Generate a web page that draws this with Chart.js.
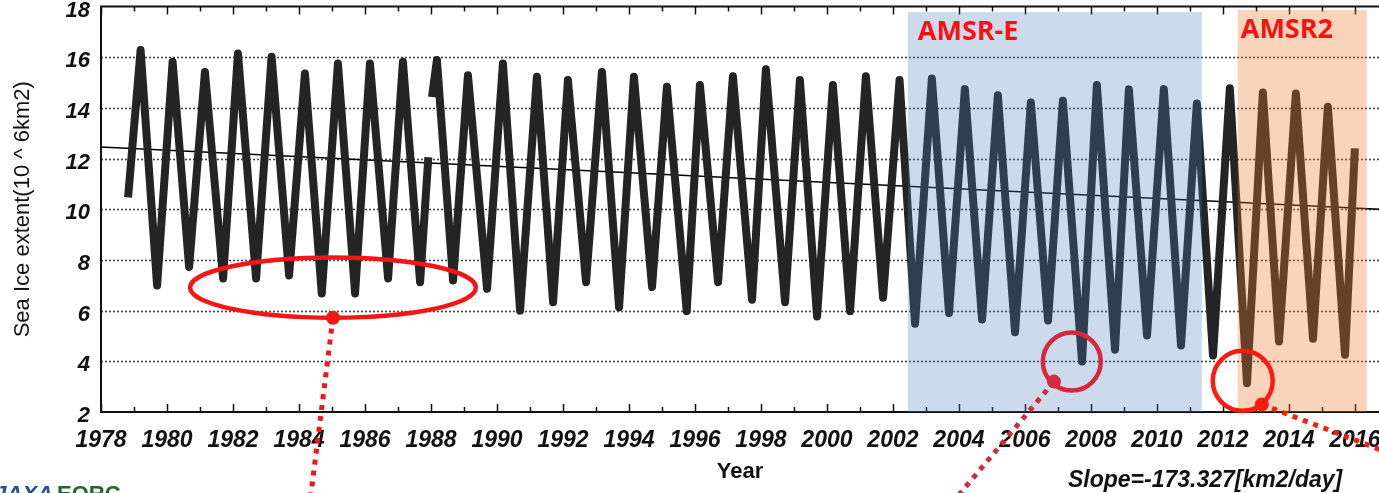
<!DOCTYPE html>
<html>
<head>
<meta charset="utf-8">
<script src="https://cdn.jsdelivr.net/npm/chart.js@4.4.1/dist/chart.umd.min.js"></script>
<style>
  html, body { margin: 0; padding: 0; background: #fff; overflow: hidden; }
  #wrap { width: 1379px; height: 493px; }
</style>
</head>
<body>
<div id="wrap"><canvas id="myChart" width="1379" height="493"></canvas></div>
<script>
// Arctic sea ice extent (decimal year, 10^6 km2)
// yearly max (~March) and min (~September), null = data gap 1987/88
const obsYear = [
  1978.82, 1979.20, 1979.70, 1980.17, 1980.67, 1981.15, 1981.70, 1982.15, 1982.70,
  1983.17, 1983.70, 1984.18, 1984.69, 1985.18, 1985.70, 1986.15, 1986.70, 1987.15,
  1987.67, 1987.92, 1987.97, 1988.03, 1988.18, 1988.67, 1989.12, 1989.70, 1990.18,
  1990.70, 1991.21, 1991.70, 1992.15, 1992.70, 1993.18, 1993.70, 1994.15, 1994.70,
  1995.15, 1995.75, 1996.15, 1996.70, 1997.15, 1997.73, 1998.15, 1998.73, 1999.18,
  1999.70, 2000.18, 2000.70, 2001.18, 2001.70, 2002.20, 2002.67, 2003.18, 2003.70,
  2004.18, 2004.70, 2005.18, 2005.70, 2006.18, 2006.70, 2007.15, 2007.73, 2008.18,
  2008.73, 2009.15, 2009.70, 2010.21, 2010.73, 2011.21, 2011.70, 2012.21, 2012.73,
  2013.21, 2013.70, 2014.21, 2014.73, 2015.18, 2015.70, 2016.00
];
const obsExtent = [
  10.47, 16.28, 6.99, 15.82, 7.72, 15.42, 7.27, 16.15, 7.27,
  16.02, 7.39, 15.36, 6.68, 15.75, 6.68, 15.75, 7.27, 15.82,
  7.12, 12.05, null, 14.43, 15.89, 7.19, 15.29, 6.86, 15.75,
  6.00, 15.23, 6.33, 15.10, 7.12, 15.42, 6.13, 15.23, 6.93,
  14.83, 5.98, 14.90, 7.12, 15.25, 6.43, 15.52, 6.33, 15.10,
  5.77, 14.90, 5.98, 15.25, 6.51, 15.10, 5.48, 15.16, 5.91,
  14.74, 5.65, 14.50, 5.15, 14.21, 5.61, 14.28, 3.99, 14.90,
  4.46, 14.73, 5.02, 14.74, 4.62, 14.17, 4.23, 14.77, 3.13,
  14.61, 4.78, 14.57, 4.89, 14.04, 4.26, 12.40
];

// linear trend line, ends
const trendYear = [1978, 2016.73];
const trendExtent = [12.46, 10.0];

const yTicks = [2, 4, 6, 8, 10, 12, 14, 16, 18];

// sensor periods shaded on the plot
const sensorNames = ['AMSR-E', 'AMSR2'];
const sensorStart = [2002.45, 2012.45];
const sensorEnd = [2011.36, 2016.36];

const FONT = "'Liberation Sans', Arial, sans-serif";

const decor = {
  id: 'decor',
  beforeDatasetsDraw(chart) {
    const {ctx, chartArea: a, scales: {y}} = chart;
    ctx.save();
    ctx.strokeStyle = '#444';
    ctx.lineWidth = 1.6;
    ctx.setLineDash([2, 2]);
    yTicks.forEach(v => {
      if (v === y.min || v === y.max) return;
      const py = Math.round(y.getPixelForValue(v)) + 0.5;
      ctx.beginPath();
      ctx.moveTo(a.left, py);
      ctx.lineTo(a.right, py);
      ctx.stroke();
    });
    ctx.restore();
  },
  afterDatasetsDraw(chart) {
    const {ctx, chartArea: a, scales: {x, y}} = chart;
    ctx.save();

    // frame
    ctx.strokeStyle = '#111';
    ctx.lineWidth = 2;
    ctx.beginPath();
    ctx.moveTo(a.right, a.top);
    ctx.lineTo(a.left, a.top);
    ctx.lineTo(a.left, a.bottom);
    ctx.lineTo(a.right, a.bottom);
    ctx.stroke();

    // inward year ticks on bottom and top
    ctx.lineWidth = 1.5;
    x.ticks.forEach(t => {
      if (!Number.isInteger(t.value)) return;
      const px = Math.round(x.getPixelForValue(t.value)) + 0.5;
      const len = t.value % 2 === 0 ? 8 : 5;
      ctx.beginPath();
      ctx.moveTo(px, a.bottom);
      ctx.lineTo(px, a.bottom - len);
      ctx.moveTo(px, a.top);
      ctx.lineTo(px, a.top + len);
      ctx.stroke();
    });

    // sensor shading (drawn over the data, like the original)
    const fills = ['rgba(79,129,189,0.29)', 'rgba(240,125,45,0.33)'];
    const tops = [17.78, 17.86];
    sensorNames.forEach((name, i) => {
      const x0 = x.getPixelForValue(sensorStart[i]);
      const x1 = x.getPixelForValue(sensorEnd[i]);
      const y0 = y.getPixelForValue(tops[i]);
      ctx.fillStyle = fills[i];
      ctx.fillRect(x0, y0, x1 - x0, a.bottom - y0);
      ctx.fillStyle = '#ff1010';
      ctx.font = "bold 27px 'Open Sans', sans-serif";
      ctx.textBaseline = 'middle';
      ctx.textAlign = 'left';
      ctx.fillText(name, x0 + (i === 0 ? 10 : 3), y0 + 20);
    });

    // red highlight marks
    ctx.setLineDash([]);
    const ring = (cx, cy, rx, ry, color, dot, end) => {
      ctx.strokeStyle = color;
      ctx.lineWidth = 4.5;
      ctx.beginPath();
      ctx.ellipse(cx, cy, rx, ry, 0, 0, Math.PI * 2);
      ctx.stroke();
      ctx.save();
      ctx.setLineDash([5, 6]);
      ctx.lineWidth = 5;
      ctx.beginPath();
      ctx.moveTo(dot[0], dot[1]);
      ctx.lineTo(end[0], end[1]);
      ctx.stroke();
      ctx.restore();
      ctx.fillStyle = color;
      ctx.beginPath();
      ctx.arc(dot[0], dot[1], 7, 0, Math.PI * 2);
      ctx.fill();
    };
    const P = (yr, v) => [x.getPixelForValue(yr), y.getPixelForValue(v)];

    let c = P(1985.03, 6.91);
    let rx = x.getPixelForValue(1985.03 + 4.33) - c[0];
    let ry = y.getPixelForValue(6.91 - 1.19) - c[1];
    ring(c[0], c[1], rx, ry, '#f51515', [c[0], c[1] + ry], P(1984.3, -1.9));

    c = P(2007.42, 3.99);
    ring(c[0], c[1], 29, 29, '#d42a3c', P(2006.88, 3.2), P(2003.85, -1.5));

    c = P(2012.6, 3.23);
    ring(c[0], c[1], 30, 30, '#ff1a10', P(2013.18, 2.3), P(2017.2, 0.3));

    // texts under the axis
    ctx.fillStyle = '#111';
    ctx.textAlign = 'left';
    ctx.textBaseline = 'middle';
    ctx.font = 'italic bold 23px ' + FONT;
    ctx.fillText('Slope=-173.327[km2/day]', 1068, 481);

    ctx.textBaseline = 'top';
    ctx.font = 'italic bold 22px ' + FONT;
    ctx.fillStyle = '#1d4f9c';
    ctx.textAlign = 'right';
    ctx.fillText('JAXA', 53, 484);
    ctx.font = 'bold 22px ' + FONT;
    ctx.fillStyle = '#1c6a2c';
    ctx.textAlign = 'left';
    ctx.fillText('EORC', 57, 484);

    ctx.restore();
  }
};

const ctx = document.getElementById('myChart');
new Chart(ctx, {
  type: 'line',
  data: {
    datasets: [
      {
        label: 'Sea ice extent',
        data: obsYear.map((yr, i) => ({x: yr, y: obsExtent[i]})),
        borderColor: '#242424',
        borderWidth: 8,
        borderJoinStyle: 'round',
        pointRadius: 0,
        tension: 0,
        spanGaps: false
      },
      {
        // speckled look of the plotted markers
        label: 'texture',
        data: obsYear.map((yr, i) => ({x: yr, y: obsExtent[i]})),
        borderColor: 'rgba(255,255,255,0.35)',
        borderWidth: 1.2,
        borderDash: [2, 5],
        pointRadius: 0,
        tension: 0,
        spanGaps: false
      },
      {
        label: 'Trend',
        data: trendYear.map((yr, i) => ({x: yr, y: trendExtent[i]})),
        borderColor: '#000',
        borderWidth: 1.5,
        pointRadius: 0
      }
    ]
  },
  options: {
    responsive: false,
    animation: false,
    events: [],
    layout: {padding: {top: 6.5, left: 0, right: 0, bottom: 0}},
    plugins: {legend: {display: false}, tooltip: {enabled: false}},
    scales: {
      x: {
        type: 'linear',
        min: 1978,
        max: 2016.73,
        grid: {display: false, drawTicks: false},
        border: {display: false},
        ticks: {
          stepSize: 1,
          includeBounds: false,
          autoSkip: false,
          maxRotation: 0,
          padding: 15,
          color: '#111',
          font: {family: FONT, size: 23, weight: 'bold', style: 'italic'},
          callback: v => (v % 2 === 0) ? String(v) : ''
        },
        title: {
          display: true,
          text: 'Year',
          color: '#111',
          font: {family: FONT, size: 22, weight: 'bold'},
          padding: {top: 0, bottom: 8}
        },
        afterFit: s => { s.height = 81; s.paddingLeft = 0; s.paddingRight = 0; }
      },
      y: {
        min: 2,
        max: 18,
        grid: {display: false, drawTicks: false},
        border: {display: false},
        ticks: {
          stepSize: 2,
          padding: 11,
          labelOffset: 4,
          color: '#111',
          font: {family: FONT, size: 22, weight: 'bold', style: 'italic'}
        },
        title: {
          display: true,
          text: 'Sea Ice extent(10 ^ 6km2)',
          color: '#111',
          font: {family: FONT, size: 22},
          padding: {top: 10, bottom: 0}
        },
        afterFit: s => { s.width = 101; s.paddingTop = 0; s.paddingBottom = 0; }
      }
    }
  },
  plugins: [decor]
});
</script>
</body>
</html>
